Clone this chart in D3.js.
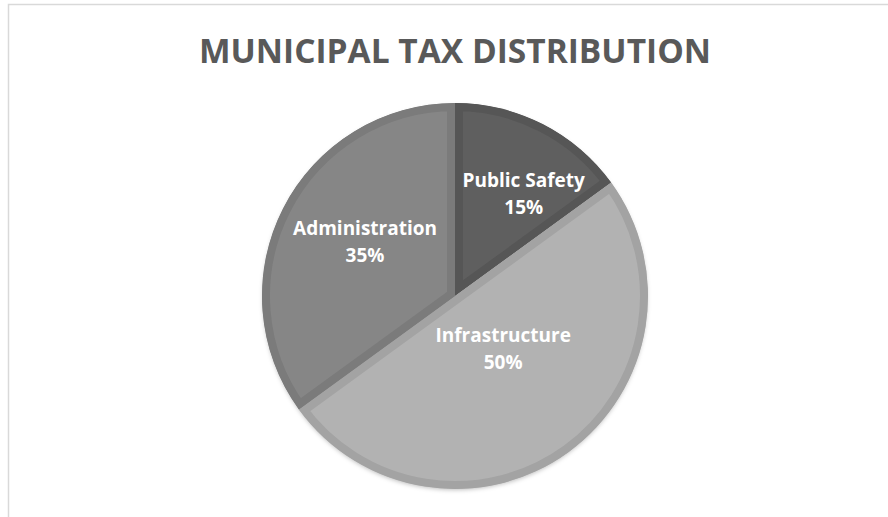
<!DOCTYPE html>
<html>
<head>
<meta charset="utf-8">
<script src="https://cdn.jsdelivr.net/npm/d3@7"></script>
<style>
  html, body { margin: 0; padding: 0; background: #fff; }
  text { font-family: "Open Sans", sans-serif; }
</style>
</head>
<body>
<div id="chart"></div>
<script>
const width = 888;
const height = 517;

// data
const categories = ["Public Safety", "Infrastructure", "Administration"];
const shares = [15, 50, 35];
const title = "MUNICIPAL TAX DISTRIBUTION";

// look of each slice: inner fill, bevel rim, label distance (share of radius), label turn (deg)
const innerFill = ["#5f5f5f", "#b2b2b2", "#868686"];
const rimFill = ["#565656", "#a3a3a3", "#7b7b7b"];
const labelDist = [0.64, 0.37, 0.545];
const labelTurn = [6.8, -6.4, 4.2];

const cx = 455, cy = 296, radius = 193;

const svg = d3.select("#chart").append("svg")
  .attr("width", width)
  .attr("height", height);

const defs = svg.append("defs");

// soft shadow under the pie
const shadow = defs.append("filter")
  .attr("id", "shadow")
  .attr("x", "-10%").attr("y", "-10%")
  .attr("width", "120%").attr("height", "120%");
shadow.append("feDropShadow")
  .attr("dx", 0).attr("dy", 2)
  .attr("stdDeviation", 2)
  .attr("flood-color", "#000")
  .attr("flood-opacity", 0.25);

// chart frame
svg.append("rect")
  .attr("x", 8.5)
  .attr("y", 4.5)
  .attr("width", width + 20)
  .attr("height", height + 20)
  .attr("fill", "#fff")
  .attr("stroke", "#d9d9d9")
  .attr("stroke-width", 1.5);

svg.append("text")
  .attr("x", cx)
  .attr("y", 63)
  .attr("text-anchor", "middle")
  .attr("font-size", 33.5)
  .attr("font-weight", "bold")
  .attr("fill", "#595959")
  .text(title);

const data = categories.map((c, i) => ({name: c, value: shares[i], i: i}));

const pie = d3.pie().sort(null).value(d => d.value);
const arcs = pie(data);
const arc = d3.arc().innerRadius(0).outerRadius(radius);

const g = svg.append("g")
  .attr("transform", `translate(${cx},${cy})`);

g.append("circle")
  .attr("r", radius - 1)
  .attr("fill", "#a3a3a3")
  .attr("filter", "url(#shadow)");

defs.selectAll("clipPath")
  .data(arcs)
  .enter().append("clipPath")
    .attr("id", d => "clip" + d.data.i)
  .append("path")
    .attr("d", arc);

g.selectAll("path.slice")
  .data(arcs)
  .enter().append("path")
    .attr("class", "slice")
    .attr("d", arc)
    .attr("fill", d => innerFill[d.data.i])
    .attr("stroke", d => rimFill[d.data.i])
    .attr("stroke-width", 16)
    .attr("stroke-linejoin", "miter")
    .attr("clip-path", d => `url(#clip${d.data.i})`);

const total = d3.sum(shares);

const label = g.selectAll("text.lbl")
  .data(arcs)
  .enter().append("text")
    .attr("class", "lbl")
    .attr("text-anchor", "middle")
    .attr("font-size", 19)
    .attr("font-weight", "bold")
    .attr("fill", "#fff")
    .attr("transform", d => {
      const r = radius * labelDist[d.data.i];
      const a = (d.startAngle + d.endAngle) / 2 + labelTurn[d.data.i] * Math.PI / 180;
      return `translate(${r * Math.sin(a)},${-r * Math.cos(a)})`;
    });

label.append("tspan")
  .attr("x", 0)
  .attr("dy", -6.5)
  .text(d => d.data.name);

label.append("tspan")
  .attr("x", 0)
  .attr("dy", 27)
  .text(d => Math.round(d.data.value / total * 100) + "%");
</script>
</body>
</html>
